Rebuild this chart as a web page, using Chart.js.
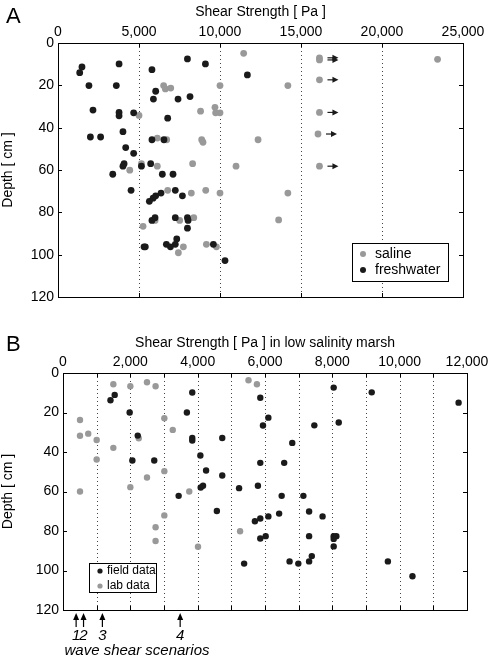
<!DOCTYPE html>
<html lang="en">
<head>
<meta charset="UTF-8">
<title>Shear strength vs depth</title>
<script src="https://cdn.jsdelivr.net/npm/chart.js"></script>
<style>
  body { margin: 0; background: #fff; }
  canvas { position: absolute; left: 0; }
  #chartA { top: 0; }
  #chartB { top: 318px; }
</style>
</head>
<body>
<canvas id="chartA" width="492" height="318"></canvas>
<canvas id="chartB" width="492" height="348"></canvas>
<script>
// ---- panel A: saline vs freshwater ----
const salineX = [11460, 6520, 6630, 6960, 10000, 8800, 9690, 9730, 10000, 5000, 6130, 6710, 8870, 8950, 12350,
  14190, 23430, 5150, 6130, 8310, 10990, 4430, 6770, 8230, 9120, 10000, 5990, 7510, 8380, 5250, 9160, 9780, 7740, 7430, 14190, 13620];
const salineY = [4.9, 20.1, 21.7, 21.3, 20.1, 32.2, 30.4, 33, 33, 34.2, 44.9, 45.7, 45.7, 46.9, 45.7,
  20.1, 7.7, 57, 58.2, 57, 58.2, 60.1, 69.6, 70.9, 69.6, 70.9, 83.8, 83.8, 82.5, 86.6, 95.1, 96.3, 96.3, 99.1, 70.9, 83.6];
// saline samples beyond the instrument range (drawn with an arrow)
const cappedX = [16140, 16140, 16140, 16140, 16050, 16140];
const cappedY = [7, 8, 17.4, 32.8, 43, 58.2];
const freshX = [7990, 9100, 3770, 1480, 1340, 5800, 11690, 1910, 3600, 6030, 5890, 7410, 8150, 2160, 3770, 3770, 4670,
  6770, 4010, 2000, 2630, 5800, 6540, 4180, 4670, 4080, 4010, 5150, 5720, 3380, 6440, 7100, 4510, 7240, 6360, 7680,
  6030, 5870, 5640, 7240, 5990, 5800, 7990, 8030, 7990, 7330, 7240, 6690, 6940, 5310, 5390, 9590, 10310];
const freshY = [7.5, 9.9, 9.9, 11.3, 14, 12.6, 15.1, 20.1, 20.1, 22.8, 26.5, 26.5, 25.3, 31.7, 32.8, 34.4, 33,
  35.5, 41.9, 44.4, 44.4, 45.7, 45.7, 49.4, 52.1, 57, 58.2, 58.2, 57, 62, 62, 62, 69.6, 69.6, 70.9, 72.2,
  72.2, 73.3, 74.8, 82.5, 82.5, 83.8, 82.5, 83.8, 87.5, 92.6, 95.1, 95.1, 96.3, 96.3, 96.3, 95.1, 102.8];

// ---- panel B: low salinity marsh ----
const labX = [505, 505, 750, 1000, 1000, 1495, 1495, 2000, 2000, 2495, 2750, 2250, 2495, 3010, 3260, 3010, 3750, 505,
  5510, 5760, 3010, 2750, 2750, 4010, 5260];
const labY = [23.8, 31.8, 30.7, 33.9, 43.8, 5.7, 37.9, 6.7, 57.8, 4.7, 6.7, 33, 52.9, 22.9, 28.8, 49.7, 60, 60,
  3.7, 5.7, 72.1, 78.1, 85.1, 88, 80.1];
const fieldX = [1410, 1535, 1980, 2220, 2060, 2710, 3840, 3680, 3840, 3840, 4080, 4250, 4730, 4730, 4090, 4160, 5230,
  5790, 5860, 5940, 6100, 5860, 3435, 8040, 9170, 11750, 7465, 8190, 6810, 6570, 6495, 7140, 4570, 5380, 5700, 5860,
  6100, 5860, 6020, 6420, 7310, 7710, 7310, 8040, 8120, 8040, 8040, 7390, 6730, 6990, 7310, 9650, 10380];
const fieldY = [13.8, 11.1, 20, 31.7, 44.3, 44.3, 9.9, 20, 32.9, 34.2, 41.8, 49.4, 32.9, 51.9, 58, 57.1, 58.3,
  57.1, 12.5, 26.6, 22.6, 45.5, 62.2, 7.4, 9.8, 15, 26.5, 25.1, 35.4, 45.5, 62.2, 62.2, 69.9, 96.5, 75.1, 73.7,
  72.6, 83.8, 82.6, 71.2, 70.1, 72.6, 82.6, 82.6, 82.6, 84, 87.8, 92.7, 95.4, 96.5, 95.4, 95.4, 102.9];
const scenarioX = [390, 610, 1170, 3480];
const scenarioLabels = ['1', '2', '3', '4'];

const GRAY = '#999999';
const BLACK = '#1a1a1a';
const FONT = "'Liberation Sans', Arial, sans-serif";
Chart.defaults.font.family = FONT;
Chart.defaults.color = '#000';

function pts(xs, ys) {
  return xs.map((x, i) => ({ x: x, y: ys[i] }));
}
function fmt(v) {
  return v.toLocaleString('en-US');
}

// dotted grid, box and inward ticks like the original figure
const framePlugin = {
  id: 'frame',
  beforeDatasetsDraw(chart) {
    const { ctx, chartArea: a, scales: { x } } = chart;
    ctx.save();
    ctx.strokeStyle = '#444';
    ctx.lineWidth = 1;
    ctx.setLineDash([1, 3]);
    x.ticks.forEach(t => {
      if (t.value <= x.min || t.value >= x.max) return;
      const px = Math.round(x.getPixelForValue(t.value)) + 0.5;
      ctx.beginPath();
      ctx.moveTo(px, a.top);
      ctx.lineTo(px, a.bottom);
      ctx.stroke();
    });
    ctx.restore();
  },
  afterDatasetsDraw(chart) {
    const { ctx, chartArea: a, scales: { x, y } } = chart;
    ctx.save();
    ctx.strokeStyle = '#000';
    ctx.lineWidth = 1;
    ctx.strokeRect(Math.round(a.left) + 0.5, Math.round(a.top) + 0.5,
      Math.round(a.right - a.left), Math.round(a.bottom - a.top));
    ctx.beginPath();
    x.ticks.forEach(t => {
      const px = Math.round(x.getPixelForValue(t.value)) + 0.5;
      ctx.moveTo(px, a.top); ctx.lineTo(px, a.top + 4);
      ctx.moveTo(px, a.bottom); ctx.lineTo(px, a.bottom - 4);
    });
    y.ticks.forEach(t => {
      const py = Math.round(y.getPixelForValue(t.value)) + 0.5;
      ctx.moveTo(a.left, py); ctx.lineTo(a.left + 4, py);
      ctx.moveTo(a.right, py); ctx.lineTo(a.right - 4, py);
    });
    ctx.stroke();
    ctx.restore();
  }
};

// arrows to the right of the capped saline points
const arrowPlugin = {
  id: 'arrows',
  afterDatasetsDraw(chart) {
    const ctx = chart.ctx;
    const meta = chart.getDatasetMeta(2);
    ctx.save();
    ctx.strokeStyle = BLACK;
    ctx.fillStyle = BLACK;
    ctx.lineWidth = 1.2;
    meta.data.forEach(p => {
      const x0 = p.x + 8, x1 = p.x + 19, yy = p.y;
      ctx.beginPath();
      ctx.moveTo(x0, yy); ctx.lineTo(x1 - 4, yy); ctx.stroke();
      ctx.beginPath();
      ctx.moveTo(x1, yy); ctx.lineTo(x1 - 6, yy - 3); ctx.lineTo(x1 - 6, yy + 3);
      ctx.closePath(); ctx.fill();
    });
    ctx.restore();
  }
};

// boxed legend inside the plot
function boxLegend(id) {
  return {
    id: id,
    afterDraw(chart, args, o) {
      const ctx = chart.ctx;
      const a = chart.chartArea;
      const bx = a.right - o.right - o.w, by = a.bottom - o.bottom - o.h;
      ctx.save();
      ctx.fillStyle = '#fff';
      ctx.fillRect(bx, by, o.w, o.h);
      ctx.strokeStyle = '#000';
      ctx.lineWidth = 1;
      ctx.strokeRect(Math.round(bx) + 0.5, Math.round(by) + 0.5, o.w, o.h);
      ctx.font = o.size + 'px ' + FONT;
      ctx.textBaseline = 'middle';
      o.items.forEach((it, i) => {
        const cy = by + o.pad + i * o.step;
        ctx.fillStyle = it.color;
        ctx.beginPath();
        ctx.arc(bx + 11, cy, o.r, 0, Math.PI * 2);
        ctx.fill();
        ctx.fillStyle = '#000';
        ctx.fillText(it.text, bx + o.tx, cy);
      });
      ctx.restore();
    }
  };
}

const letterPlugin = {
  id: 'letter',
  afterDraw(chart, args, o) {
    const ctx = chart.ctx;
    ctx.save();
    ctx.font = '22px ' + FONT;
    ctx.fillStyle = '#000';
    ctx.textBaseline = 'middle';
    ctx.fillText(o.text, 6, o.y);
    ctx.restore();
  }
};

// wave shear scenario arrows below panel B
const scenarioPlugin = {
  id: 'scenarios',
  afterDraw(chart) {
    const { ctx, chartArea: a, scales: { x } } = chart;
    ctx.save();
    ctx.strokeStyle = '#000';
    ctx.fillStyle = '#000';
    ctx.lineWidth = 1.2;
    ctx.font = 'italic 15px ' + FONT;
    ctx.textAlign = 'center';
    ctx.textBaseline = 'middle';
    scenarioX.forEach((v, i) => {
      const px = x.getPixelForValue(v);
      const top = a.bottom + 3, bot = a.bottom + 17;
      ctx.beginPath();
      ctx.moveTo(px, bot); ctx.lineTo(px, top + 5); ctx.stroke();
      ctx.beginPath();
      ctx.moveTo(px, top); ctx.lineTo(px - 3, top + 7); ctx.lineTo(px + 3, top + 7);
      ctx.closePath(); ctx.fill();
      ctx.fillText(scenarioLabels[i], px, a.bottom + 26);
    });
    ctx.fillText('wave shear scenarios', 137, a.bottom + 41);
    ctx.restore();
  }
};

function axes(xMax, xStep, labelStep, xTitle, yWidth, xHeight) {
  return {
    x: {
      type: 'linear', position: 'top', min: 0, max: xMax,
      ticks: {
        stepSize: xStep, autoSkip: false, maxRotation: 0, padding: 2, font: { size: 14 },
        callback: v => (v % labelStep === 0 ? fmt(v) : '')
      },
      grid: { display: false, drawTicks: false },
      border: { display: false },
      title: { display: true, text: xTitle, font: { size: 14 }, padding: { top: 4, bottom: 0 } },
      afterFit: s => { s.height = xHeight; }
    },
    y: {
      type: 'linear', min: 0, max: 120, reverse: true,
      ticks: { stepSize: 20, padding: 4, font: { size: 14 } },
      grid: { display: false, drawTicks: false },
      border: { display: false },
      title: { display: true, text: 'Depth [ cm ]', font: { size: 14 }, padding: { top: 0, bottom: 2 } },
      afterFit: s => { s.width = yWidth; }
    }
  };
}

new Chart(document.getElementById('chartA'), {
  type: 'scatter',
  data: {
    datasets: [
      { label: 'freshwater', data: pts(freshX, freshY), backgroundColor: BLACK, borderWidth: 0, pointRadius: 3.4, order: 0 },
      { label: 'saline', data: pts(salineX, salineY), backgroundColor: GRAY, borderWidth: 0, pointRadius: 3.4, order: 1 },
      { label: 'saline (beyond range)', data: pts(cappedX, cappedY), backgroundColor: GRAY, borderWidth: 0, pointRadius: 3.4, order: 1 }
    ]
  },
  options: {
    responsive: false, animation: false,
    layout: { padding: { left: 0, top: 0, right: 29, bottom: 21 } },
    plugins: {
      legend: { display: false }, tooltip: { enabled: false },
      legendA: { w: 96, h: 38, right: 15, bottom: 16, pad: 11, step: 16, r: 3, tx: 23, size: 14,
        items: [{ text: 'saline', color: GRAY }, { text: 'freshwater', color: BLACK }] },
      letter: { text: 'A', y: 17 }
    },
    scales: axes(25000, 5000, 5000, 'Shear Strength [ Pa ]', 58, 43)
  },
  plugins: [framePlugin, arrowPlugin, boxLegend('legendA'), letterPlugin]
});

new Chart(document.getElementById('chartB'), {
  type: 'scatter',
  data: {
    datasets: [
      { label: 'field data', data: pts(fieldX, fieldY), backgroundColor: BLACK, borderWidth: 0, pointRadius: 3.2, order: 0 },
      { label: 'lab data', data: pts(labX, labY), backgroundColor: GRAY, borderWidth: 0, pointRadius: 3.2, order: 1 }
    ]
  },
  options: {
    responsive: false, animation: false,
    layout: { padding: { left: 0, top: 13, right: 25, bottom: 56 } },
    plugins: {
      legend: { display: false }, tooltip: { enabled: false },
      legendB: { w: 67, h: 29, right: 311, bottom: 18, pad: 8, step: 15, r: 2.6, tx: 18, size: 12,
        items: [{ text: 'field data', color: BLACK }, { text: 'lab data', color: GRAY }] },
      letter: { text: 'B', y: 27 }
    },
    scales: axes(12000, 1000, 2000, 'Shear Strength [ Pa ] in low salinity marsh', 63, 42)
  },
  plugins: [framePlugin, boxLegend('legendB'), letterPlugin, scenarioPlugin]
});
</script>
</body>
</html>
